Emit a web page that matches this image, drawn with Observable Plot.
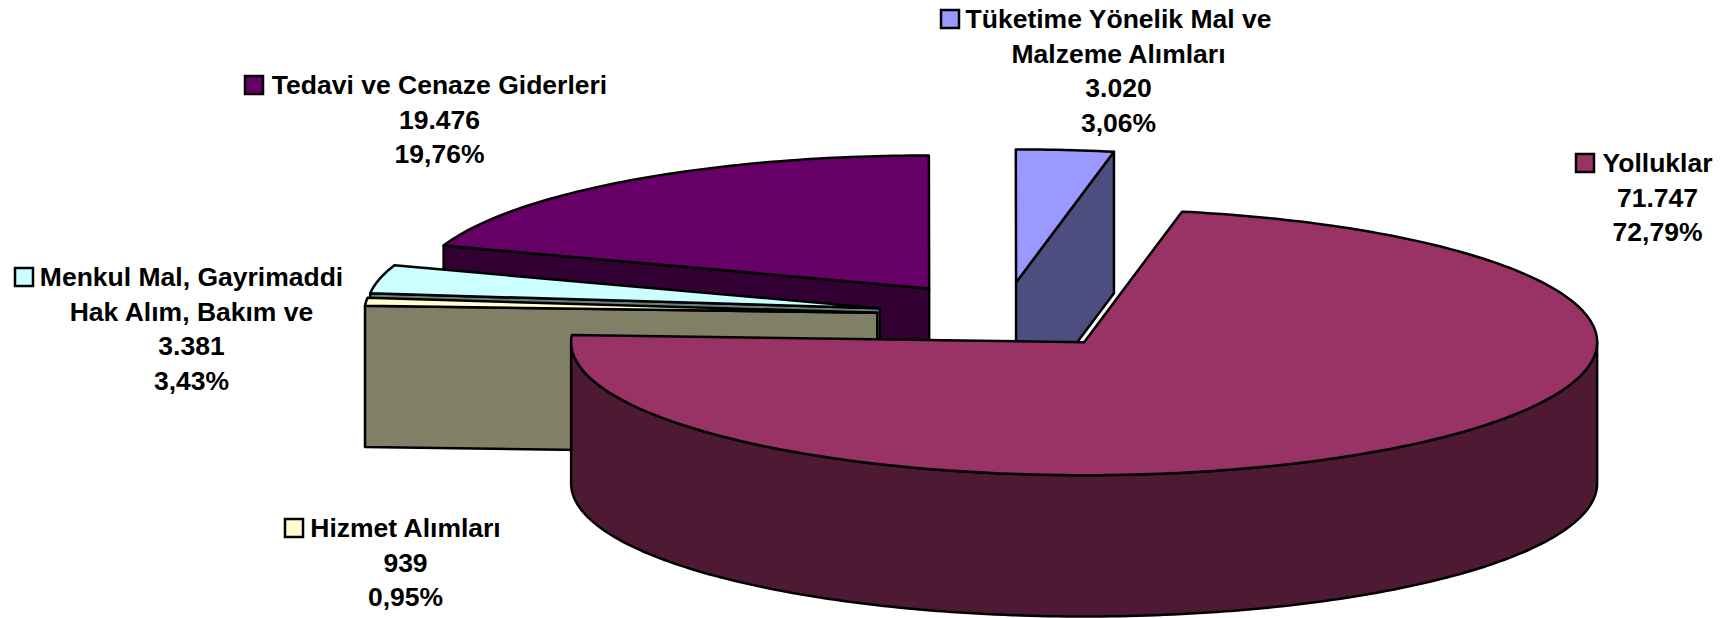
<!DOCTYPE html>
<html>
<head>
<meta charset="utf-8">
<style>html,body{margin:0;padding:0;background:#fff;overflow:hidden}svg{display:block}</style>
<script src="https://cdn.jsdelivr.net/npm/d3@7"></script>
<script src="https://cdn.jsdelivr.net/npm/@observablehq/plot@0.6"></script>
</head>
<body>
<div id="chart"></div>
<script>
// ---- data (clockwise from the first slice) ----
const categories = ["Yolluklar", "Hizmet Alımları", "Menkul Mal, Gayrimaddi Hak Alım, Bakım ve", "Tedavi ve Cenaze Giderleri", "Tüketime Yönelik Mal ve Malzeme Alımları"];
const values = [71747, 939, 3381, 19476, 3020];
const valueLabels = ["71.747", "939", "3.381", "19.476", "3.020"];
const percentLabels = ["72,79%", "0,95%", "3,43%", "19,76%", "3,06%"];
const nameLines = [["Yolluklar"], ["Hizmet Alımları"], ["Menkul Mal, Gayrimaddi", "Hak Alım, Bakım ve"], ["Tedavi ve Cenaze Giderleri"], ["Tüketime Yönelik Mal ve", "Malzeme Alımları"]];
const topColors = ["#993366", "#FFFFCC", "#CCFFFF", "#660066", "#9999FF"];
const sideColors = ["#4D1933", "#808066", "#668080", "#330033", "#4D4D80"];

// ---- pie geometry (pie space is mapped to the page by the x and y scales) ----
const pie = {cx: 1003.3, cy: 315, rx: 513, ry: 133, depth: 141.3, start: 11.0};
const explode = [0.2545, 0.2475, 0.2475, 0.25, 0.25];
const labelAnchors = [
  {x: 1657, y: 163, keyX: 1576}, {x: 405, y: 528, keyX: 285}, {x: 191, y: 277, keyX: 15},
  {x: 439, y: 85, keyX: 245}, {x: 1118, y: 19, keyX: 941}
];
const lineStep = 34.6, keySize = 18;

const total = d3.sum(values);
let acc = pie.start;
const slices = values.map((v, i) => {
  const a0 = acc, a1 = acc + v / total * 360;
  acc = a1;
  const mid = (a0 + a1) / 2 * Math.PI / 180;
  return {i, a0, a1,
    ax: pie.cx + explode[i] * pie.rx * Math.sin(mid),
    ay: pie.cy - explode[i] * pie.ry * Math.cos(mid)};
});
const rim = (s, deg, dz = 0) => {
  const t = deg * Math.PI / 180;
  return {x: s.ax + pie.rx * Math.sin(t), y: s.ay - pie.ry * Math.cos(t) + dz};
};
const arc = (s, a, b, dz = 0) => {
  const n = Math.max(2, Math.ceil(Math.abs(b - a)));
  return d3.range(n + 1).map(k => rim(s, a + (b - a) * k / n, dz));
};
const topFace = s => [{x: s.ax, y: s.ay}, ...arc(s, s.a0, s.a1)];
const cutFace = (s, deg) => [
  {x: s.ax, y: s.ay}, rim(s, deg), rim(s, deg, pie.depth), {x: s.ax, y: s.ay + pie.depth}
];
const wall = (s, a, b) => [...arc(s, a, b), ...arc(s, b, a, pie.depth)];
const face = (pts, fill) => Plot.line(pts, {x: "x", y: "y", fill, stroke: "#000", strokeWidth: 2.5, curve: "linear-closed", strokeLinejoin: "round"});

const [yol, hiz, men, ted, tuk] = slices;
const faces = [
  face(cutFace(ted, ted.a0), sideColors[3]), face(topFace(ted), topColors[3]),
  face(cutFace(tuk, tuk.a1), sideColors[4]), face(topFace(tuk), topColors[4]),
  face(cutFace(men, men.a0), sideColors[2]), face(topFace(men), topColors[2]),
  face(cutFace(hiz, hiz.a0), sideColors[1]), face(topFace(hiz), topColors[1]),
  face(wall(yol, 90, 270), sideColors[0]), face(topFace(yol), topColors[0])
];

const labelRows = categories.flatMap((c, i) => {
  const lines = [...nameLines[i], valueLabels[i], percentLabels[i]];
  return lines.map((text, k) => ({text, x: labelAnchors[i].x, y: labelAnchors[i].y + k * lineStep}));
});
const keys = categories.map((c, i) => ({
  x1: labelAnchors[i].keyX, x2: labelAnchors[i].keyX + keySize,
  y1: labelAnchors[i].y - keySize / 2, y2: labelAnchors[i].y + keySize / 2,
  fill: topColors[i]
}));

document.getElementById("chart").append(Plot.plot({
  width: 1724, height: 618, margin: 0,
  style: {background: "#fff", overflow: "hidden"},
  x: {domain: [0, 1724], range: [0, 1724], axis: null},
  y: {domain: [0, 618], range: [0, 618], axis: null},
  marks: [
    ...faces,
    ...keys.map(k => Plot.rect([k], {x1: "x1", x2: "x2", y1: "y1", y2: "y2", fill: k.fill, stroke: "#000", strokeWidth: 2.5})),
    Plot.text(labelRows, {x: "x", y: "y", text: "text", fontSize: 26.5, fontWeight: "bold", fontFamily: "Liberation Sans, Arial, sans-serif", fill: "#000", lineAnchor: "middle"})
  ]
}));
</script>
</body>
</html>
